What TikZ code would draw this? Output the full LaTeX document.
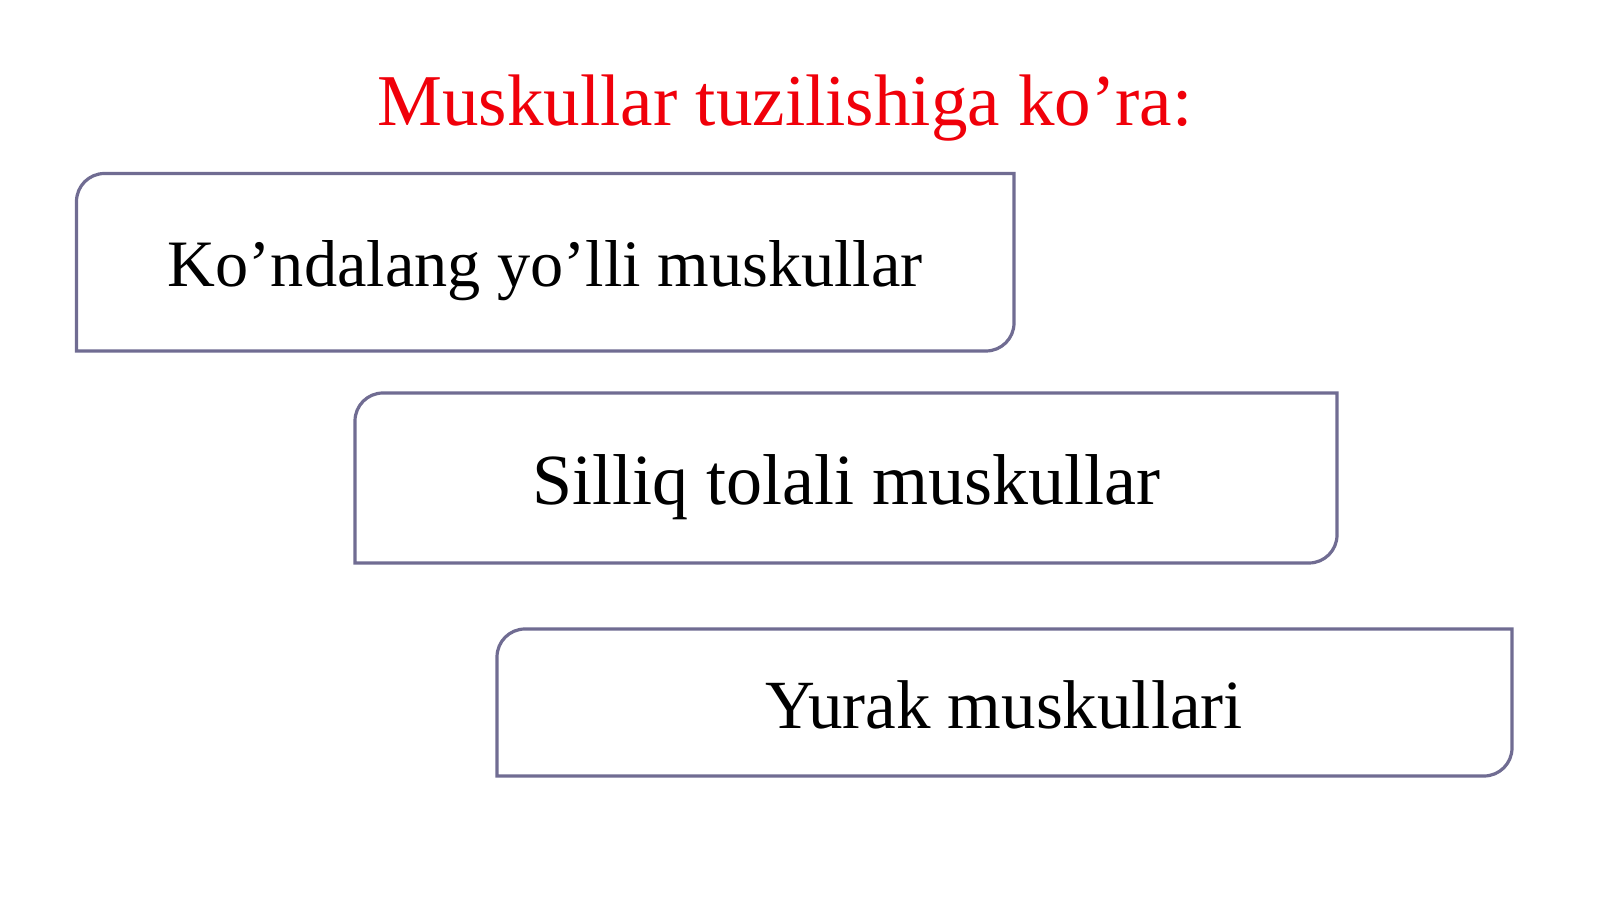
\documentclass[tikz,border=0pt]{standalone}
\usepackage{fontspec}
\setmainfont{Liberation Serif}
\definecolor{frame}{RGB}{112,108,146}
\definecolor{titlered}{RGB}{240,0,10}
\tikzset{
  boxarea/.style={rectangle, inner sep=0pt, outer sep=0pt},
  boxframe/.style={draw=frame, line width=3.2pt},
  boxtext/.style={anchor=base, inner sep=0pt, text=black},
  titletext/.style={anchor=base, inner sep=0pt, font=\fontsize{73}{76}\selectfont, text=titlered}
}
\newcommand{\halfroundframe}[1]{%
  \draw[boxframe] (#1.south west) -- ([yshift=-28pt]#1.north west)
    arc[start angle=180, end angle=90, radius=28pt] -- (#1.north east)
    -- ([yshift=28pt]#1.south east)
    arc[start angle=0, end angle=-90, radius=28pt] -- cycle;}
\begin{document}
\begin{tikzpicture}[x=1pt,y=1pt]
\useasboundingbox[fill=white] (0,0) rectangle (1600,899);
\node[titletext] (title) at (785,{899-126}) {Muskullar tuzilishiga ko’ra:};
% box 1
\node[boxarea, minimum width=937.5pt, minimum height=177.5pt] (b1) at (545.25,{899-262.25}) {};
\halfroundframe{b1}
\node[boxtext, font=\fontsize{66.3}{70}\selectfont] (t1) at (545.25,{899-287}) {Ko’ndalang yo’lli muskullar};
% box 2
\node[boxarea, minimum width=982pt, minimum height=170pt] (b2) at (846,{899-478}) {};
\halfroundframe{b2}
\node[boxtext, font=\fontsize{72}{76}\selectfont] (t2) at (846,{899-505}) {Silliq tolali muskullar};
% box 3
\node[boxarea, minimum width=1015pt, minimum height=147pt] (b3) at (1004.5,{899-702.5}) {};
\halfroundframe{b3}
\node[boxtext, font=\fontsize{69}{72}\selectfont] (t3) at (1004.5,{899-729}) {Yurak muskullari};
\end{tikzpicture}
\end{document}
